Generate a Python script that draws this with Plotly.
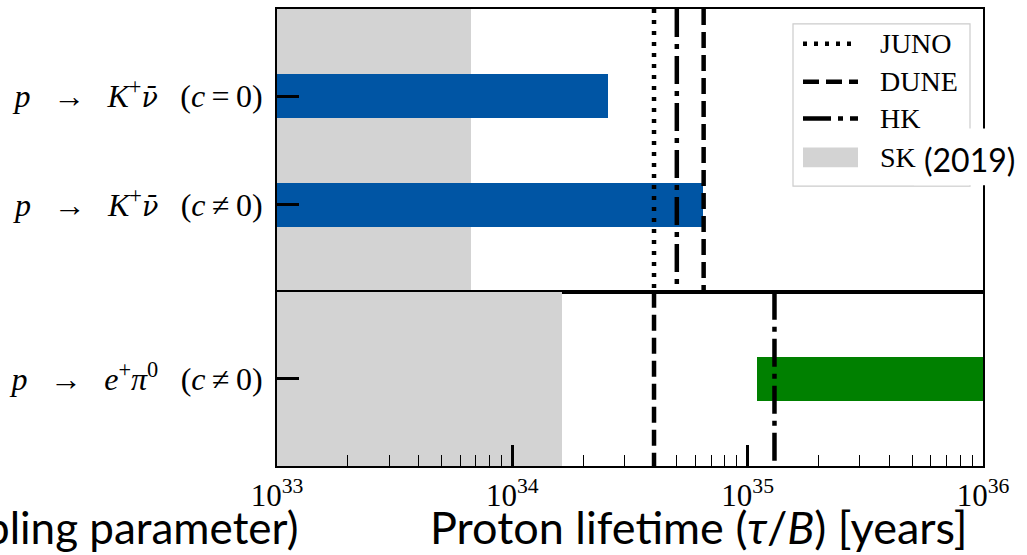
import plotly.graph_objects as go

# ---------------- data ----------------
NU_BAR = '<span style="font-family:DejaVu Serif;font-size:27px"><i>\u03bd\u0304</i></span>'
ARROW = "\u2002\u2009→\u2002\u2009"
top_labels = [
    "<i>p</i>" + ARROW + "<i>K</i><sup>+</sup>" + NU_BAR + "\u2002\u2009(<i>c</i>\u2009=\u20090)",
    "<i>p</i>" + ARROW + "<i>K</i><sup>+</sup>" + NU_BAR + "\u2002\u2009(<i>c</i>\u2009≠\u20090)",
]
top_pos = [0, 1]
top_bar_lo = [1e33, 1e33]
top_bar_hi = [2.55e34, 6.45e34]

bottom_labels = ["<i>p</i>" + ARROW + "<i>e</i><sup>+</sup><i>π</i><sup>0</sup>\u2002\u2009(<i>c</i>\u2009≠\u20090)"]
bottom_pos = [0]
bottom_bar_lo = [1.1e35]
bottom_bar_hi = [2.0e36]

sk_top = 6.7e33
sk_bottom = 1.63e34

top_lines = {"JUNO": 4.0e34, "HK": 5.0e34, "DUNE": 6.5e34}
bottom_lines = {"DUNE": 4.0e34, "HK": 1.3e35}

legend_names = ["JUNO", "DUNE", "HK", "SK"]

xtick_vals = [1e33, 1e34, 1e35, 1e36]
xtick_text = ["10<sup>33</sup>", "10<sup>34</sup>", "10<sup>35</sup>", "10<sup>36</sup>"]
xminor_vals = [float(m) * 10.0 ** e for e in (33, 34, 35) for m in range(2, 10)]

# ---------------- style ----------------
BLUE = "#0055A4"
GREEN = "#008000"
GRAY = "#D3D3D3"
SERIF = "Liberation Serif"
SANS = "Lato"
DASH = {"JUNO": "4px,7px", "DUNE": "16px,7px", "HK": "28px,7px,5px,7px"}
LW = 4.5

FIG_W, FIG_H = 1027, 555
ML, MR, MT, MB = 277, 44, 7, 89
PW = FIG_W - ML - MR
PH = FIG_H - MT - MB
SPLIT = 175 / PH

TOP_RANGE = [-0.8, 1.8]
BOT_RANGE = [-0.8, 0.8]
BASE = 1e33


def px_x(p):
    return (p - ML) / PW


def px_y(p):
    return (FIG_H - MB - p) / PH


fig = go.Figure()

# SK shaded regions (drawn as full-height bars)
fig.add_trace(go.Bar(orientation="h", y=[sum(TOP_RANGE) / 2], x=[sk_top - BASE], base=[BASE],
                     width=[TOP_RANGE[1] - TOP_RANGE[0]], marker=dict(color=GRAY, line=dict(width=0)),
                     xaxis="x", yaxis="y", showlegend=False, hoverinfo="skip"))
fig.add_trace(go.Bar(orientation="h", y=[sum(BOT_RANGE) / 2], x=[sk_bottom - BASE], base=[BASE],
                     width=[BOT_RANGE[1] - BOT_RANGE[0]], marker=dict(color=GRAY, line=dict(width=0)),
                     xaxis="x2", yaxis="y2", showlegend=False, hoverinfo="skip"))

# prediction bars
fig.add_trace(go.Bar(orientation="h", y=top_pos, base=top_bar_lo,
                     x=[h - l for h, l in zip(top_bar_hi, top_bar_lo)], width=0.4,
                     marker=dict(color=BLUE, line=dict(width=0)),
                     xaxis="x", yaxis="y", showlegend=False))
fig.add_trace(go.Bar(orientation="h", y=bottom_pos, base=bottom_bar_lo,
                     x=[h - l for h, l in zip(bottom_bar_hi, bottom_bar_lo)], width=0.4,
                     marker=dict(color=GREEN, line=dict(width=0)),
                     xaxis="x2", yaxis="y2", showlegend=False))

# experiment sensitivity lines
for name, v in top_lines.items():
    fig.add_trace(go.Scatter(x=[v, v], y=TOP_RANGE, mode="lines",
                             line=dict(color="black", width=LW, dash=DASH[name]),
                             xaxis="x", yaxis="y", showlegend=False, name=name))
for name, v in bottom_lines.items():
    fig.add_trace(go.Scatter(x=[v, v], y=BOT_RANGE, mode="lines",
                             line=dict(color="black", width=LW, dash=DASH[name]),
                             xaxis="x2", yaxis="y2", showlegend=False, name=name))

axis_common = dict(showline=True, linecolor="black", linewidth=2, mirror=True,
                   showgrid=False, zeroline=False)
ylab_font = dict(family=SERIF, size=32, color="black")

fig.update_layout(
    width=FIG_W, height=FIG_H,
    margin=dict(l=ML, r=MR, t=MT, b=MB, pad=0),
    paper_bgcolor="white", plot_bgcolor="white",
    barmode="overlay", bargap=0,
    showlegend=False,
    xaxis=dict(type="log", range=[33, 36], anchor="y", domain=[0, 1],
               showticklabels=False, ticks="", **axis_common),
    xaxis2=dict(type="log", range=[33, 36], anchor="y2", domain=[0, 1],
                tickvals=xtick_vals, ticktext=xtick_text, ticks="inside",
                ticklen=21, tickwidth=2.5, tickcolor="black",
                minor=dict(tickvals=xminor_vals, ticks="inside", ticklen=11,
                           tickwidth=1.3, tickcolor="black"),
                ticklabelstandoff=1,
                tickfont=dict(family=SERIF, size=31, color="black"), **axis_common),
    yaxis=dict(domain=[SPLIT, 1], anchor="x", range=TOP_RANGE[::-1],
               tickvals=top_pos, ticktext=top_labels, ticks="inside",
               ticklen=22, tickwidth=2.5, tickcolor="black", ticklabelstandoff=6,
               tickfont=ylab_font, **axis_common),
    yaxis2=dict(domain=[0, SPLIT], anchor="x2", range=BOT_RANGE[::-1],
                tickvals=bottom_pos, ticktext=bottom_labels, ticks="inside",
                ticklen=22, tickwidth=2.5, tickcolor="black", ticklabelstandoff=6,
                tickfont=ylab_font, **axis_common),
)

# ---------------- manual legend ----------------
shapes = []
annotations = []
shapes.append(dict(type="rect", xref="paper", yref="paper", layer="above",
                   x0=px_x(793), x1=px_x(970), y0=px_y(185), y1=px_y(22),
                   line=dict(color="#CCCCCC", width=1.2), fillcolor="white"))
row_y = [42, 80, 117, 156]
for name, ry in zip(legend_names, row_y):
    if name == "SK":
        shapes.append(dict(type="rect", xref="paper", yref="paper", layer="above",
                           x0=px_x(803), x1=px_x(858), y0=px_y(ry + 10), y1=px_y(ry - 10),
                           line=dict(width=0), fillcolor=GRAY))
    else:
        shapes.append(dict(type="line", xref="paper", yref="paper", layer="above",
                           x0=px_x(803), x1=px_x(858), y0=px_y(ry), y1=px_y(ry),
                           line=dict(color="black", width=LW, dash=DASH[name])))
    annotations.append(dict(xref="paper", yref="paper", x=px_x(878), y=px_y(ry),
                            xanchor="left", yanchor="middle", showarrow=False, text=name,
                            font=dict(family=SERIF, size=28, color="black")))

# slide overlays
shapes.append(dict(type="rect", xref="paper", yref="paper", layer="above",
                   x0=px_x(914), x1=px_x(1030), y0=px_y(184), y1=px_y(127),
                   line=dict(width=0), fillcolor="white"))
annotations.append(dict(xref="paper", yref="paper", x=px_x(922), y=px_y(158),
                        xanchor="left", yanchor="middle", showarrow=False, text="(2019)",
                        font=dict(family=SANS, size=32, color="black")))
annotations.append(dict(xref="paper", yref="paper", x=px_x(698), y=px_y(527),
                        xanchor="center", yanchor="middle", showarrow=False,
                        text="Proton lifetime (<i>τ</i>/<i>B</i>) [years]",
                        font=dict(family=SANS, size=45, color="black")))
annotations.append(dict(xref="paper", yref="paper", x=px_x(300), y=px_y(527),
                        xanchor="right", yanchor="middle", showarrow=False,
                        text="pling parameter)",
                        font=dict(family=SANS, size=44, color="black")))

fig.update_layout(shapes=shapes, annotations=annotations)

fig.write_html("out.html")
